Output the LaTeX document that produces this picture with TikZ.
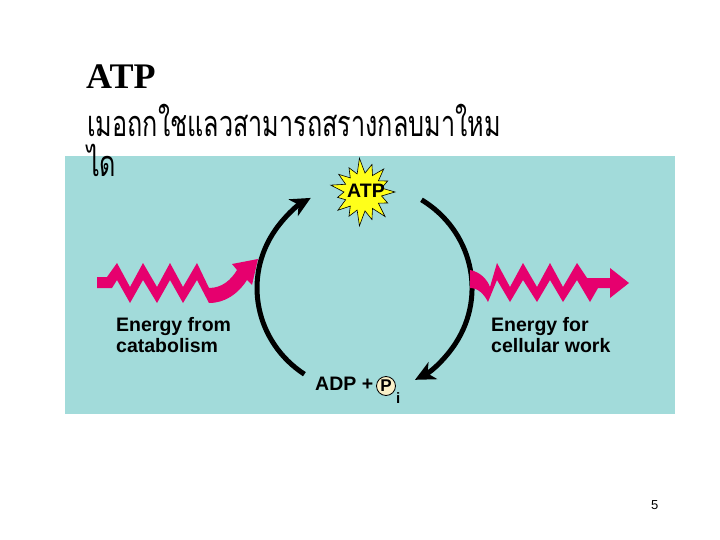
\documentclass[tikz,border=0pt]{standalone}
\usepackage{fontspec}
\setmainfont{Liberation Serif}
\newfontfamily\thaifont[Script=Thai]{Loma}
\newfontfamily\arialf{Liberation Sans}
\usetikzlibrary{arrows.meta}
\definecolor{panel}{HTML}{A2DBDA}
\definecolor{pinkz}{HTML}{E6006E}
\definecolor{burstyel}{HTML}{FFFF1A}
\definecolor{pcircle}{HTML}{FAF0C8}
\begin{document}
\begin{tikzpicture}[x=1pt,y=-1pt,
  zig/.style={fill=pinkz, draw=none},
  cyc/.style={draw=black, line width=5pt, -{Stealth[length=20pt,width=19pt,inset=6pt]}},
  lbl/.style={inner sep=0pt, font=\arialf\bfseries\fontsize{19.5}{21}\selectfont},
  thai/.style={inner sep=0pt, anchor=base west, font=\thaifont\fontsize{36}{36}\selectfont}]
\useasboundingbox (0,0) rectangle (720,540);
\fill[white] (0,0) rectangle (720,540);
\fill[panel] (65,156) rectangle (675,414);
% title and Thai text
\node[inner sep=0pt, anchor=base west, font=\fontsize{36}{40}\selectfont\bfseries] (title) at (86,89) {ATP};
\node[thai] (thai1) at (87,137) {\scalebox{0.70}[1]{เมอถกใชแลวสามารถสรางกลบมาใหม}};
\node[thai] (thai2) at (87,177) {\scalebox{0.70}[1]{ได}};
% ATP burst
\coordinate (atpc) at (363,192);
\begin{scope}[shift={(atpc)}]
\filldraw[fill=burstyel, draw=black, line width=0.6pt] (0:32)
  \foreach \a/\r in {24/27,48/33,72/29,96/34,120/28,144/31,168/26,192/33,216/30,240/28,264/34,288/29,312/31,336/27}
  { -- (\a-12:19) -- (\a:\r) } -- (348:19) -- cycle;
\end{scope}
\node[lbl] (atp) at (366,190.5) {ATP};
% ADP + Pi
\node[lbl, anchor=base west] (adp) at (315,390) {ADP +};
\node[circle, draw=black, line width=0.8pt, fill=pcircle, minimum size=19pt, inner sep=0pt,
      font=\arialf\bfseries\fontsize{17}{17}\selectfont] (pi) at (386,386) {P};
\node[inner sep=0pt, anchor=base west, font=\arialf\bfseries\fontsize{15}{15}\selectfont] (isub) at (396,403) {i};
% labels
\node[lbl, align=left, anchor=north west] (from) at (116,317) {Energy from\\catabolism};
\node[lbl, align=left, anchor=north west] (for) at (491,317) {Energy for\\cellular work};
% cycle arcs
\coordinate (Lb) at (304.4,374.2);
\coordinate (Rt) at (421.5,199.8);
\draw[cyc] (Lb) arc[start angle=124, end angle=240, x radius=107.5, y radius=104];
\draw[cyc] (Rt) arc[start angle=-58, end angle=62, x radius=107.5, y radius=104];
% zigzag energy arrows
\coordinate (inS) at (97,277);
\coordinate (inE) at (258,259);
\path[zig] (inS) -- (107,277) -- (117,263) -- (130,287) -- (143,263) -- (157,287) -- (170,263)
  -- (183,287) -- (197,263) -- (209,288) .. controls (222,288) and (231,280) .. (237,270)
  -- (232,264) -- (inE) -- (252,285) -- (247,280) .. controls (238,294) and (225,303) .. (209,303)
  -- (197,280) -- (183,303) -- (170,280) -- (157,303) -- (143,280) -- (130,303) -- (117,280)
  -- (112,288) -- (97,288) -- cycle;
\coordinate (outS) at (470,270);
\coordinate (outE) at (629,283);
\path[zig] (outS) .. controls (480,272) and (487,279) .. (490,287) -- (497,263) -- (510,287)
  -- (523,263) -- (537,287) -- (550,263) -- (563,287) -- (577,263) -- (587,278) -- (610,278)
  -- (610,268) -- (outE) -- (610,298) -- (610,288) -- (598,288) -- (590,302) -- (577,280)
  -- (563,302) -- (550,280) -- (537,302) -- (523,280) -- (510,302) -- (497,280) -- (488,302)
  .. controls (484,294) and (478,288) .. (470,288) -- cycle;
% page number
\node[inner sep=0pt, anchor=base west, font=\arialf\fontsize{13}{13}\selectfont] (pg) at (651,509) {5};
\end{tikzpicture}
\end{document}
